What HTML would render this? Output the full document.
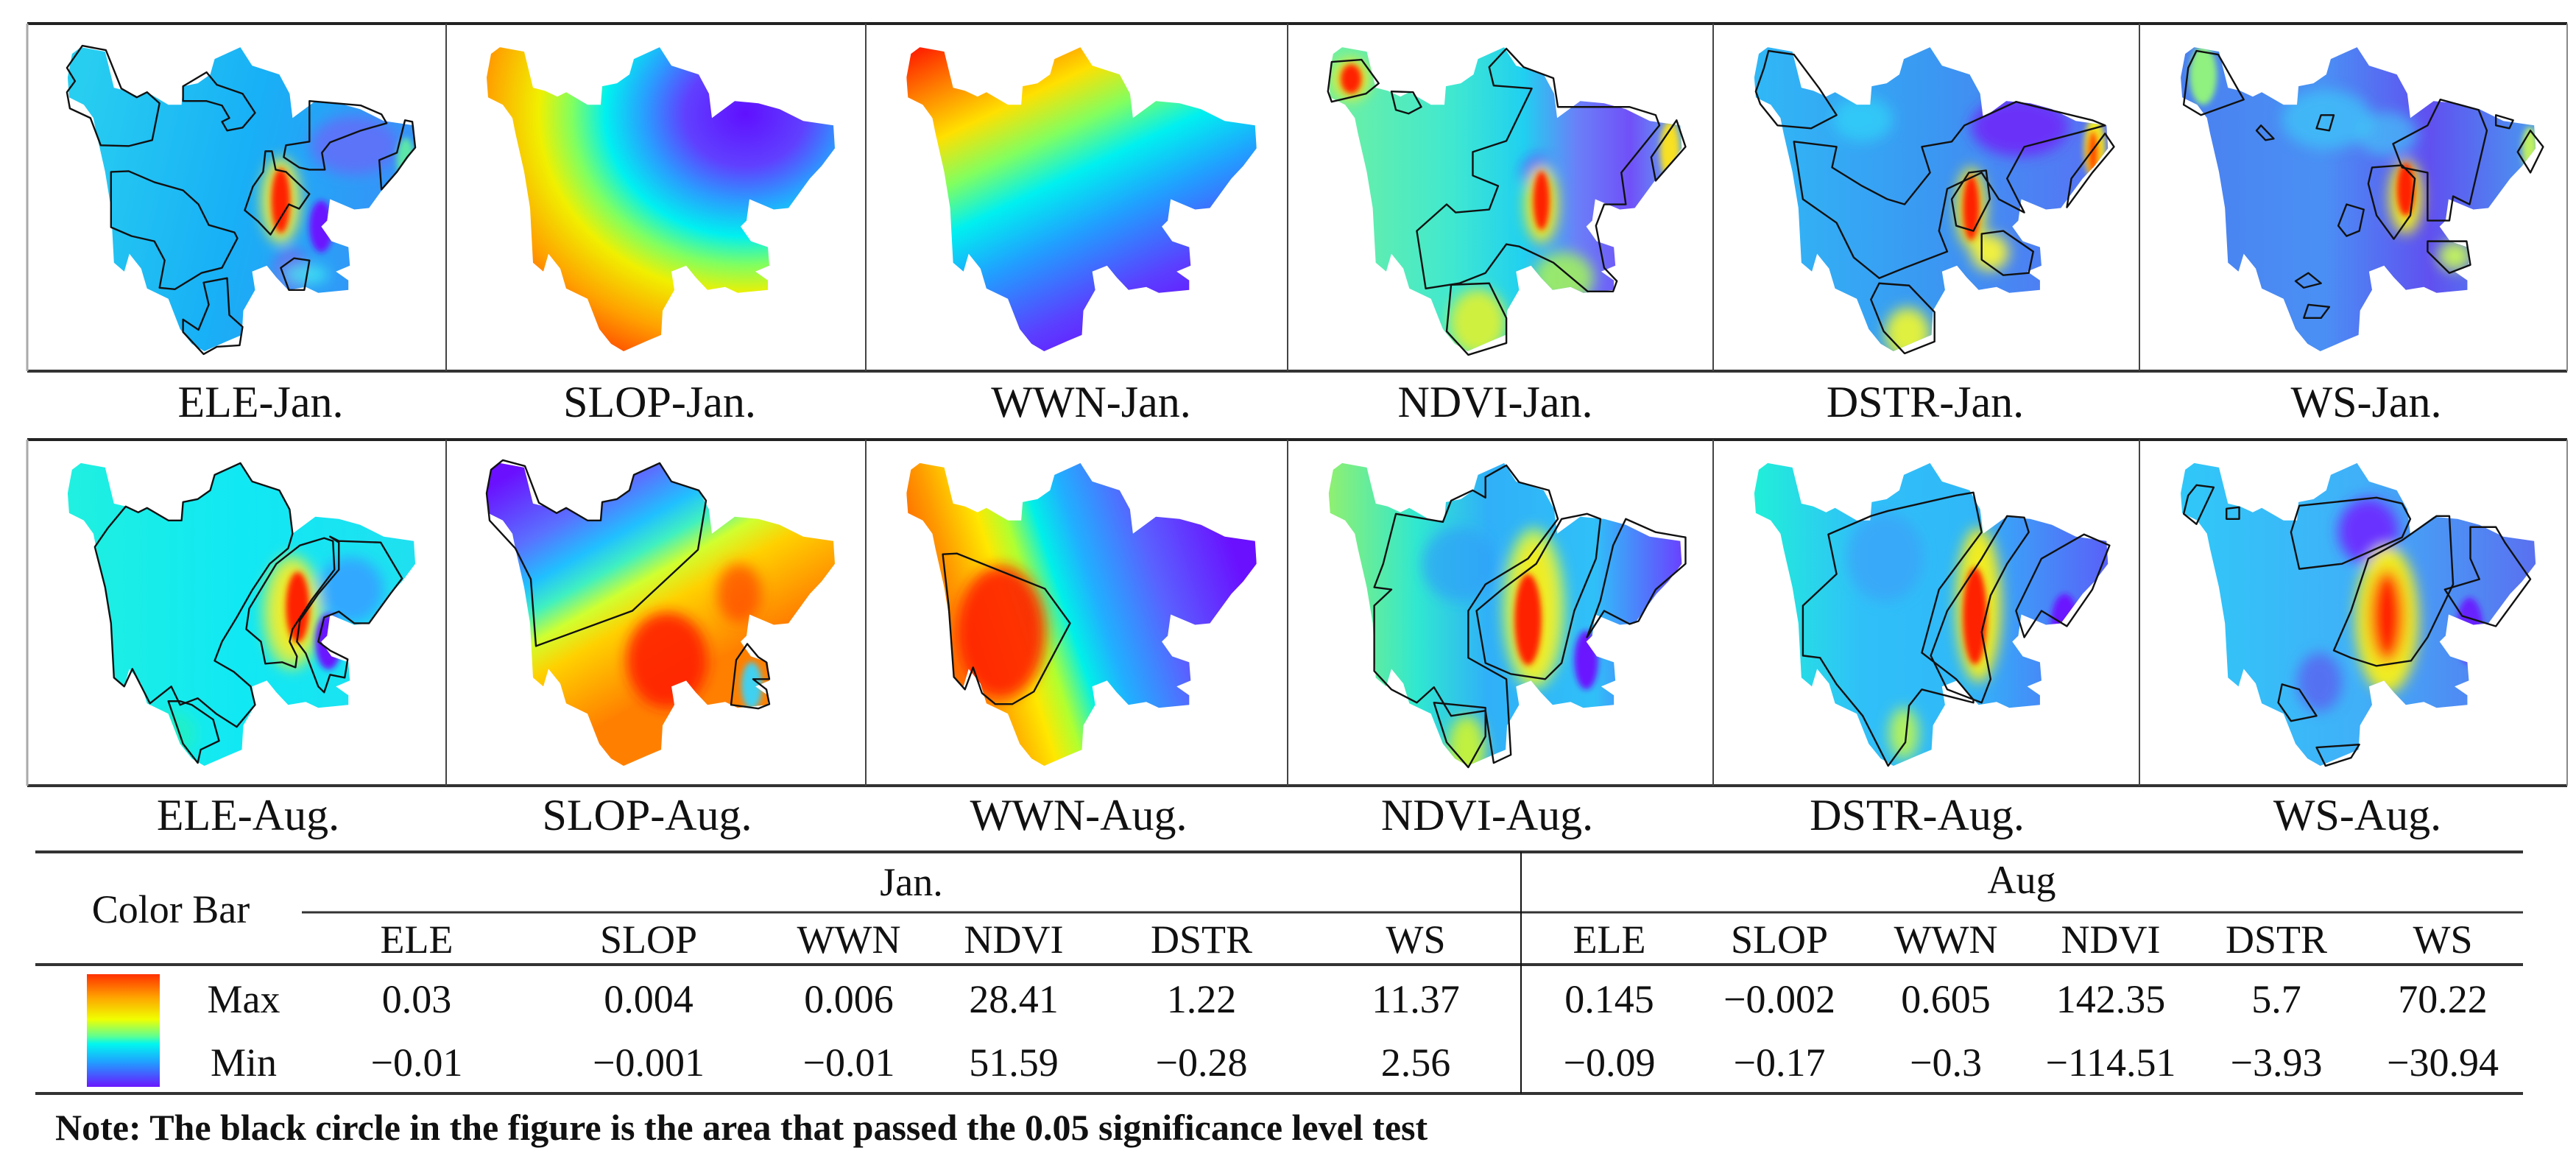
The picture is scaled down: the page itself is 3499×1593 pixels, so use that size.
<!DOCTYPE html>
<html><head><meta charset="utf-8"><title>Panels</title>
<style>html,body{margin:0;padding:0;background:#fff;}svg{display:block;}</style></head>
<body>
<svg id="fig" xmlns="http://www.w3.org/2000/svg" width="3499" height="1593" viewBox="0 0 3499 1593">
<defs id="defs">
<filter id="bl" x="-60%" y="-60%" width="220%" height="220%"><feGaussianBlur stdDeviation="9"/></filter>
<filter id="bs" x="-60%" y="-60%" width="220%" height="220%"><feGaussianBlur stdDeviation="4"/></filter>
<linearGradient id="cbar" x1="0" y1="0" x2="0" y2="1">
<stop offset="0" stop-color="#ff3000"/><stop offset="0.2" stop-color="#ffa000"/><stop offset="0.4" stop-color="#f0ff00"/><stop offset="0.55" stop-color="#60ff90"/><stop offset="0.62" stop-color="#00f6f0"/><stop offset="0.78" stop-color="#20a0ff"/><stop offset="1" stop-color="#6a18ff"/>
</linearGradient>
<radialGradient id="slopjan" cx="0.74" cy="0.22" r="0.95" fx="0.74" fy="0.22">
<stop offset="0" stop-color="#6010ff"/><stop offset="0.18" stop-color="#6040ff"/><stop offset="0.3" stop-color="#2a9cff"/><stop offset="0.42" stop-color="#00f0f0"/><stop offset="0.52" stop-color="#80ff60"/><stop offset="0.62" stop-color="#f0f000"/><stop offset="0.78" stop-color="#ffa000"/><stop offset="1" stop-color="#ff1800"/>
</radialGradient>
</defs>
</svg>
<script>
// ---- table data ----
const janCols = ["ELE","SLOP","WWN","NDVI","DSTR","WS"];
const augCols = ["ELE","SLOP","WWN","NDVI","DSTR","WS"];
const janMax = ["0.03","0.004","0.006","28.41","1.22","11.37"];
const janMin = ["\u22120.01","\u22120.001","\u22120.01","51.59","\u22120.28","2.56"];
const augMax = ["0.145","\u22120.002","0.605","142.35","5.7","70.22"];
const augMin = ["\u22120.09","\u22120.17","\u22120.3","\u2212114.51","\u22123.93","\u221230.94"];
const panelLabels = ["ELE-Jan.","SLOP-Jan.","WWN-Jan.","NDVI-Jan.","DSTR-Jan.","WS-Jan.","ELE-Aug.","SLOP-Aug.","WWN-Aug.","NDVI-Aug.","DSTR-Aug.","WS-Aug."];

const NS="http://www.w3.org/2000/svg";
const svg=document.getElementById('fig');
const defs=document.getElementById('defs');
function mk(tag,attrs,parent){const e=document.createElementNS(NS,tag);for(const k in attrs)e.setAttribute(k,attrs[k]);(parent||svg).appendChild(e);return e;}

const shapePts="73,32 106,38 118,87 134,91 151,99 163,93 192,110 210,110 212,85 232,81 249,69 255,48 290,32 306,57 343,69 357,95 361,128 392,105 424,108 453,116 485,132 526,138 528,169 510,193 494,210 465,250 445,252 412,238 408,267 400,275 414,295 437,303 439,328 420,336 437,348 437,361 396,365 379,357 355,361 339,344 326,328 306,336 310,361 294,389 292,422 273,430 241,444 224,434 208,414 192,373 163,359 155,332 139,312 132,336 118,324 114,250 106,201 94,148 90,128 77,110 57,100 55,73 61,41";

const colX=[37,606,1176,1749,2327,2906,3487];
const rowY=[[32,504],[597,1067]];
const labelCx=[[354,896,1482,2031,2615,3214],[337,879,1465,2020,2604,3202]];
const labelBase=[566,1127];

const R='#ff2000',Y='#f0ec20',P='#6a18ff';
const panels=[
 {g:[0,0.3,1,0.5,[[0,'#28cef0'],[0.5,'#18b0f6'],[1,'#3a90f8']]],
  s:[[445,165,60,40,'#6070f8',0.9],[360,335,25,30,'#6a70f0',0.9],[400,275,16,35,P,1],[345,240,26,58,'#e8f040',1],[345,240,13,44,R,1],[380,340,30,12,'#40f0f0',0.8],[515,185,12,30,'#60f0a0',0.9]],
  c:["75,30 107,36 128,88 149,100 163,93 180,108 170,158 138,166 100,165 86,128 58,115 54,93 65,78 54,60",
     "114,201 138,200 173,215 212,226 233,245 247,273 282,283 286,291 265,331 237,338 201,360 180,358 187,321 173,295 142,288 114,276",
     "240,351 272,345 275,395 293,411 289,436 258,438 240,448 212,418 212,401 233,415 247,381",
     "324,173 333,173 338,198 352,201 384,231 370,251 356,245 331,286 314,268 296,253 307,221 321,201",
     "212,85 244,66 258,83 293,95 310,121 293,141 272,145 265,133 275,128 265,111 244,105 212,105",
     "384,105 419,108 454,111 482,123 489,135 454,145 412,161 401,175 405,198 384,198 370,195 349,181 352,165 384,160",
     "514,131 524,133 528,168 517,181 503,201 482,225 479,185 503,175",
     "345,331 363,318 384,321 377,361 356,361"]},
 {rad:'slopjan',g:[0,0,1,1,[]],s:[],c:[]},
 {g:[0.05,0,0.6,1,[[0,'#ff2000'],[0.12,'#ff8000'],[0.25,'#ffe000'],[0.38,'#80ff60'],[0.5,'#00f0f0'],[0.65,'#20a0ff'],[0.85,'#5a40ff'],[1,'#6a10ff']]],s:[],c:[]},
 {g:[0,0.5,1,0.5,[[0,'#70f0a0'],[0.35,'#40e8d0'],[0.55,'#20d0f0'],[0.7,'#6a80f8'],[0.85,'#7050f8'],[1,'#60b0f0']]],
  s:[[85,75,24,28,Y,1],[85,75,14,20,R,1],[335,205,20,24,P,0.9],[340,245,22,52,Y,1],[340,240,11,40,R,1],[512,172,13,40,'#f8e020',1],[255,405,38,45,'#d0f040',1],[370,345,40,35,'#a0f060',0.9]],
  c:["59,52 99,49 122,81 105,95 59,106 54,92",
     "270,59 293,34 316,59 356,74 362,113 458,113 493,124 498,138 447,202 453,245 424,245 413,274 424,331 441,349 436,363 402,363 356,324 310,302 293,299 265,338 230,352 185,359 173,281 213,245 225,256 270,252 282,220 248,206 248,174 293,159 327,88 276,84",
     "521,131 533,167 493,213 487,181","219,354 270,352 293,399 293,433 242,449 213,417","139,92 168,93 179,113 162,122 145,117"]},
 {g:[0,0.5,1,0.5,[[0,'#30b8f6'],[0.5,'#3a98f2'],[1,'#5a70f4']]],
  s:[[410,140,65,40,'#6a30f8',1],[345,250,20,55,Y,1],[345,250,11,44,R,1],[510,170,14,42,Y,1],[508,175,8,30,'#ff5000',1],[370,310,25,25,'#f0f040',1],[260,420,30,35,'#e0f040',1],[200,130,40,30,'#30d0f8',0.8]],
  c:["74,37 108,42 142,88 165,124 131,142 86,138 63,109 57,92 68,60",
     "108,160 165,167 159,195 199,220 233,238 256,245 290,202 279,167 319,160 336,138 405,106 507,131 524,138 484,149 416,167 393,210 416,256 382,238 359,202 313,224 302,281 313,309 256,331 222,345 188,317 165,270 120,238",
     "342,202 365,199 370,238 348,281 325,274 319,238","524,149 536,167 507,202 473,249 479,210",
     "359,285 388,281 428,309 422,338 388,341 359,320","222,352 262,355 296,391 296,431 256,447 228,417 211,374"]},
 {g:[0,0.5,1,0.5,[[0,'#4a80f0'],[0.4,'#4a90f4'],[0.7,'#6050f0'],[1,'#4a98f0']]],
  s:[[85,70,18,40,'#90f080',1],[355,235,22,50,Y,1],[355,225,12,36,R,1],[420,315,22,20,'#c0f060',1],[250,130,60,40,'#40c0f8',0.8],[330,150,40,30,'#40d0f8',0.6],[520,170,10,30,'#c0f060',1]],
  c:["76,37 105,42 139,103 82,124 59,110 65,60","310,195 350,192 367,210 361,260 339,292 316,260 305,217",
     "338,163 384,138 401,103 452,117 463,145 440,245 418,234 413,267 384,267 384,202 350,195",
     "242,124 259,124 253,145 236,142","162,138 179,156 168,158 156,145","276,245 299,252 293,281 276,288 265,274",
     "225,338 242,352 219,358 208,349","225,381 253,384 242,399 219,399","384,295 436,295 441,327 413,338 384,309",
     "475,124 498,131 493,142 475,138","521,145 538,167 521,202 504,174"]},
 {g:[0,0.5,1,0.5,[[0,'#20f0e0'],[0.5,'#10e8f4'],[1,'#20e0f0']]],
  s:[[440,205,45,45,'#30a8ff',1],[410,275,18,38,P,1],[360,235,40,78,'#b0f060',1],[362,232,28,62,Y,1],[368,228,16,48,R,1],[200,400,30,30,'#20f0c0',0.8]],
  c:["134,91 151,99 163,93 192,110 210,110 212,85 232,81 249,69 255,48 290,32 306,57 343,69 357,95 361,128 355,148 330,169 306,205 285,242 265,275 255,301 281,316 304,336 310,361 285,391 257,373 232,352 208,361 196,336 167,359 143,312 132,336 118,324 114,250 106,201 92,146 110,120",
     "192,356 208,356 224,361 253,381 261,410 236,422 232,440 212,414",
     "404,134 416,138 418,177 387,218 361,258 357,275 367,295 365,310 347,303 324,305 318,275 298,258 302,230 339,169 371,144",
     "412,132 424,140 424,177 396,210 371,246 367,275 379,291 396,336 404,344 412,320 432,324 436,299 412,287 396,275 404,242 424,234 445,250 465,250 494,210 510,189 481,140 424,138"]},
 {g:[0.1,0.02,0.55,0.72,[[0,'#6a10ff'],[0.25,'#5a70ff'],[0.4,'#20c0ff'],[0.5,'#40f0c0'],[0.6,'#d0ff30'],[0.72,'#ffd000'],[1,'#ff8000']]],
  s:[[300,300,55,65,R,0.9],[398,209,30,40,'#ff4000',0.7],[415,335,14,32,'#40d0f0',1]],
  c:["77,28 107,36 126,86 150,100 163,93 192,110 210,110 212,85 232,81 249,69 255,48 290,32 306,57 343,69 353,83 342,150 253,233 122,281 115,190 94,148 59,110 55,73 61,41",
     "409,278 424,296 435,303 439,326 417,326 435,340 439,360 424,366 387,361 394,300"]},
 {g:[0.05,0.6,0.95,0.35,[[0,'#ff5000'],[0.15,'#ff9a00'],[0.28,'#ffe800'],[0.36,'#b0ff30'],[0.45,'#00f0e8'],[0.55,'#20b0ff'],[0.75,'#5a60ff'],[1,'#6a10ff']]],
  s:[[183,262,60,90,R,0.9]],
  c:["104,156 123,155 242,203 276,250 227,343 198,360 175,360 157,345 145,310 134,340 119,323 112,226"]},
 {g:[0,0.5,1,0.5,[[0,'#90f070'],[0.25,'#30e8d0'],[0.45,'#30b0f8'],[0.75,'#30c0f8'],[1,'#6a40ff']]],
  s:[[330,230,42,110,'#b0f060',1],[330,232,30,95,Y,1],[322,245,18,62,R,1],[400,300,16,40,P,1],[240,420,25,45,'#c0f040',1],[230,170,50,50,'#30a0f8',0.7]],
  c:["145,101 208,112 219,83 248,69 265,79 265,51 293,35 310,58 350,69 362,108 322,162 265,197 242,233 242,297 293,326 299,429 276,440 265,369 219,376 196,337 173,358 139,340 116,315 116,226 139,204 116,201 128,169",
     "367,108 401,101 419,108 413,162 384,233 367,304 345,326 299,319 265,304 253,233 287,204 333,169",
     "453,108 493,126 533,133 533,169 493,204 470,247 458,251 424,233 401,269 419,219 436,144",
     "196,358 265,365 265,404 242,446 213,412"]},
 {g:[0,0.5,1,0.5,[[0,'#20f0d8'],[0.3,'#30c0f8'],[0.6,'#30b8f8'],[1,'#5a60f8']]],
  s:[[355,225,30,105,Y,1],[350,240,16,66,R,1],[470,250,18,40,P,1],[230,160,50,60,'#3aa0f8',0.7],[255,400,20,35,'#b0f060',1]],
  c:["154,129 211,104 234,97 325,76 348,72 359,126 302,204 279,290 325,326 348,354 348,358 279,340 262,362 257,412 234,444 200,376 165,333 143,297 120,294 120,226 165,183",
     "393,104 416,106 422,126 393,169 371,212 359,262 371,326 359,358 313,340 291,294 313,233 359,162",
     "439,162 496,129 530,144 507,204 473,254 439,233 416,269 405,233"]},
 {g:[0,0.5,1,0.5,[[0,'#30c8f8'],[0.5,'#40b0f8'],[1,'#5a70f0']]],
  s:[[305,125,40,45,'#6a30ff',1],[330,245,42,100,Y,1],[330,240,22,62,R,1],[440,260,18,45,P,0.9],[240,330,30,40,'#5a60f0',0.8]],
  c:["213,90 316,79 350,87 361,108 350,133 270,169 213,176 202,126",
     "282,297 316,308 362,301 384,269 418,197 413,104 396,104 350,137 305,162 282,233 259,287",
     "76,62 99,65 76,115 59,101 65,76","441,119 475,119 487,140 521,190 475,254 430,240 407,204 453,190 441,162",
     "190,333 213,340 236,376 202,383 185,358","236,419 293,415 282,433 248,444","116,94 133,92 133,108 116,108"]}
];

// ---- draw panels ----
panels.forEach((p,i)=>{
  const row=Math.floor(i/6), col=i%6;
  const x0=colX[col], x1=colX[col+1], y0=rowY[row][0], y1=rowY[row][1];
  const sx=(x1-x0)/570, sy=(y1-y0)/471;
  const gid=p.rad?p.rad:'g'+i, cid='c'+i;
  if(!p.rad){
    const lg=mk('linearGradient',{id:gid,x1:p.g[0],y1:p.g[1],x2:p.g[2],y2:p.g[3]},defs);
    p.g[4].forEach(s=>mk('stop',{offset:s[0],'stop-color':s[1]},lg));
  }
  const cp=mk('clipPath',{id:cid},defs);
  mk('polygon',{points:shapePts},cp);
  const grp=mk('g',{transform:`translate(${x0},${y0}) scale(${sx},${sy})`});
  
  
  const inner=mk('g',{'clip-path':`url(#${cid})`},grp);
  mk('rect',{x:54,y:31,width:476,height:415,fill:`url(#${gid})`},inner);
  const sgBig=mk('g',{filter:'url(#bl)'},inner);
  const sgSmall=mk('g',{filter:'url(#bs)'},inner);
  p.s.forEach(s=>{
    const par=(s[2]<20)?sgSmall:sgBig;
    const el=mk('ellipse',{cx:s[0],cy:s[1],rx:s[2],ry:s[3],fill:s[4],'fill-opacity':s[5]},par);
    
    
  });
  p.c.forEach(c=>{
    const el=mk('polygon',{points:c,fill:'none',stroke:'#111','stroke-width':2.4,'stroke-linejoin':'round','vector-effect':'non-scaling-stroke'},grp);
    
    
  });
  const t=mk('text',{x:labelCx[row][col],y:labelBase[row],'text-anchor':'middle','font-family':'"Liberation Serif",serif','font-size':60,fill:'#111'});
  t.textContent=panelLabels[i];
  
  
});

// ---- frames ----
rowY.forEach(r=>{
  const f=mk('g',{});
  
  
  mk('line',{x1:37,y1:r[0],x2:3487,y2:r[0],stroke:'#222','stroke-width':4},f);
  mk('line',{x1:37,y1:r[1],x2:3487,y2:r[1],stroke:'#333','stroke-width':4},f);
  mk('line',{x1:37,y1:r[0],x2:37,y2:r[1],stroke:'#aaa','stroke-width':3},f);
  mk('line',{x1:3487,y1:r[0],x2:3487,y2:r[1],stroke:'#888','stroke-width':2},f);
  for(let k=1;k<6;k++) mk('line',{x1:colX[k],y1:r[0],x2:colX[k],y2:r[1],stroke:'#444','stroke-width':2},f);
});

// ---- table ----
const tb=mk('g',{});


mk('line',{x1:48,y1:1157,x2:3427,y2:1157,stroke:'#333','stroke-width':4},tb);
mk('line',{x1:410,y1:1239,x2:3427,y2:1239,stroke:'#333','stroke-width':3},tb);
mk('line',{x1:48,y1:1310,x2:3427,y2:1310,stroke:'#333','stroke-width':4},tb);
mk('line',{x1:48,y1:1485,x2:3427,y2:1485,stroke:'#333','stroke-width':4},tb);
mk('line',{x1:2066,y1:1157,x2:2066,y2:1485,stroke:'#111','stroke-width':2},tb);
const cb=mk('rect',{x:118,y:1323,width:99,height:153,fill:'url(#cbar)'},tb);


function txt(s,x,y,name){const t=mk('text',{x:x,y:y,'text-anchor':'middle','font-family':'"Liberation Serif",serif','font-size':54,fill:'#111'},tb);t.textContent=s;return t;}
txt('Color Bar',232,1253,'color-bar-header');
txt('Jan.',1238,1216,'jan-header');
txt('Aug',2746,1213,'aug-header');
txt('Max',331,1375,'max-label');
txt('Min',331,1461,'min-label');
const janX=[566,881,1153,1377,1632,1923];
const augX=[2186,2417,2643,2867,3092,3318];
janCols.forEach((c,k)=>{txt(c,janX[k],1294,'jan-col-header');txt(janMax[k],janX[k],1375,'jan-max-value');txt(janMin[k],janX[k],1461,'jan-min-value');});
augCols.forEach((c,k)=>{txt(c,augX[k],1294,'aug-col-header');txt(augMax[k],augX[k],1375,'aug-max-value');txt(augMin[k],augX[k],1461,'aug-min-value');});
const note=mk('text',{x:75,y:1548,'font-family':'"Liberation Serif",serif','font-size':50,'font-weight':'bold',fill:'#111'});
note.textContent='Note: The black circle in the figure is the area that passed the 0.05 significance level test';


</script>
</body></html>
